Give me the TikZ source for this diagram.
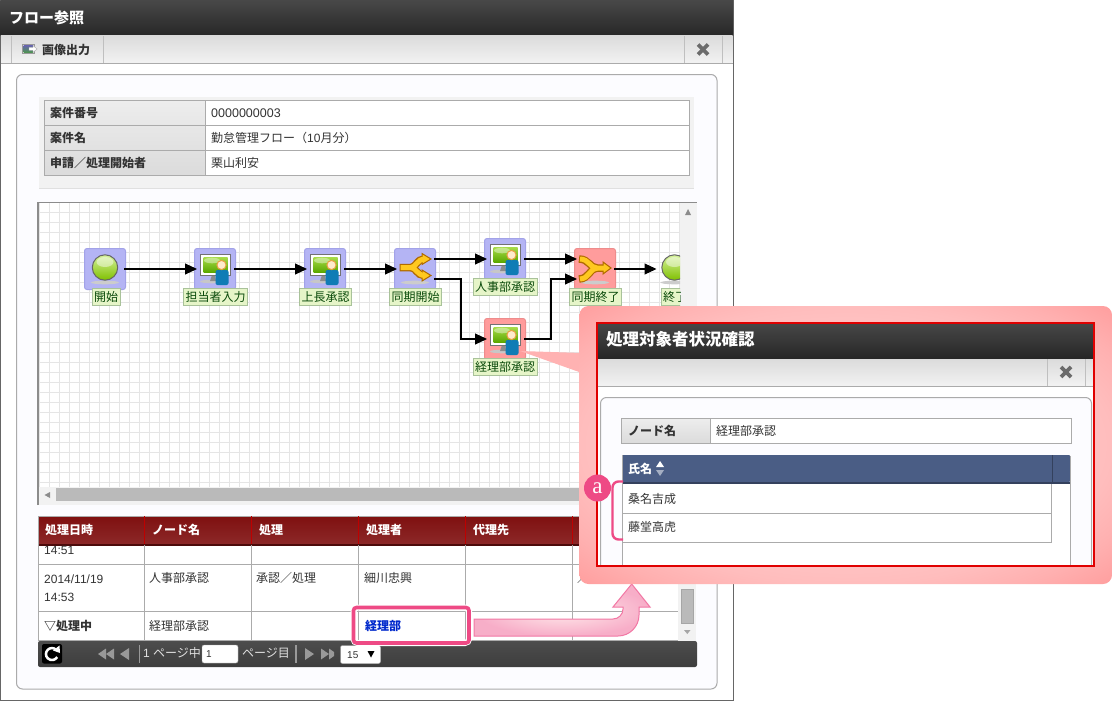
\documentclass[tikz,border=0pt]{standalone}
\usepackage{fontspec}
\setmainfont{Noto Sans CJK JP}
\newfontfamily\latinf{Liberation Sans}
\newfontfamily\markf{Liberation Serif}
\usetikzlibrary{arrows.meta}

\definecolor{textgray}{HTML}{333333}
\definecolor{linegray}{HTML}{ABABAB}
\definecolor{hotpink}{HTML}{EE4A85}
\definecolor{flowblue}{HTML}{B4B4F4}
\definecolor{flowblueline}{HTML}{A2A2E8}
\definecolor{flowred}{HTML}{FF9C9C}
\definecolor{flowredline}{HTML}{EE8C8C}
\definecolor{labelgreen}{HTML}{E6F5C8}
\definecolor{labelline}{HTML}{A9C29A}
\definecolor{labeltext}{HTML}{0A4A0A}
\definecolor{headred}{HTML}{7F1010}
\definecolor{headblue}{HTML}{4A5D85}
\definecolor{winred}{HTML}{E00000}
\definecolor{limetop}{HTML}{D6F29C}
\definecolor{limelow}{HTML}{7FC000}
\definecolor{screentop}{HTML}{A8DC4A}
\definecolor{screenlow}{HTML}{5CA800}
\definecolor{bodyblue}{HTML}{0F7CB5}
\definecolor{headskin}{HTML}{FFEBCB}
\definecolor{headline}{HTML}{E8A040}
\definecolor{forkfill}{HTML}{FFC820}
\definecolor{forkline}{HTML}{B06A00}

\pgfdeclareradialshading{calloutpink}{\pgfpoint{0bp}{0bp}}{rgb(0bp)=(1,.82,.82); rgb(18bp)=(1,.78,.78); rgb(25bp)=(1,.74,.74); rgb(30bp)=(1,.69,.69); rgb(35.4bp)=(1,.62,.62); rgb(50bp)=(1,.62,.62)}

\tikzset{
  txt/.style={anchor=west,inner sep=0pt,text=textgray,font=\fontsize{12}{14}\selectfont},
  boldtxt/.style={txt,font=\fontsize{12}{14}\selectfont\bfseries},
  headtxt/.style={boldtxt,text=white},
  titletxt/.style={anchor=west,inner sep=0pt,text=white,font=\fontsize{15}{17}\selectfont\bfseries},
  celline/.style={draw=linegray,line width=1pt},
  flowbox/.style={shape=rectangle,rounded corners=2.5pt,minimum size=41pt,inner sep=0pt,line width=1pt,draw=flowblueline,fill=flowblue},
  flowboxred/.style={flowbox,draw=flowredline,fill=flowred},
  flowlabel/.style={shape=rectangle,draw=labelline,fill=labelgreen,line width=1pt,inner sep=0pt,minimum height=17pt,text=labeltext,font=\fontsize{12}{14}\selectfont},
  flowline/.style={draw=black,line width=1.1pt,-{Triangle[length=12pt,width=11pt]},shorten <=-2pt,shorten >=-3pt},
  ballicon/.pic={
    \fill[black!20] (0,13.5) ellipse [x radius=14pt, y radius=1.8pt];
    \shade[top color=limetop,bottom color=limelow,draw=black!60,line width=1pt] (0,-1.5) circle [radius=12.7pt];
    \fill[white,opacity=.45] (0,-7) ellipse [x radius=8.5pt, y radius=5pt];
  },
  usericon/.pic={
    \fill[black!22] (-3,12.5) ellipse [x radius=12pt, y radius=1.8pt];
    \fill[black!45] (-3,6) -- (0,6) -- (1,12) -- (-5,12) -- cycle;
    \draw[black!55,fill=white,line width=1pt] (-14.5,-15) rectangle (15.5,6);
    \shade[top color=screentop,bottom color=screenlow] (-11.5,-12) rectangle (12.5,3);
    \fill[white,opacity=.4] (-3,-8.5) ellipse [x radius=8pt, y radius=2.8pt];
    \fill[bodyblue,rounded corners=2pt] (0.5,1) rectangle (13.5,16);
    \draw[headline,fill=headskin,line width=1pt] (6.5,-4) circle [radius=4.6pt];
  },
  forkicon/.pic={
    \fill[black!20] (0,13.5) ellipse [x radius=14pt, y radius=1.8pt];
    \draw[forkline,line width=7.5pt] (-15.5,-1.5) -- (-4,-1.5) .. controls (1,-1.5) and (2,-10) .. (9,-10);
    \draw[forkline,line width=7.5pt] (-4,-1.5) .. controls (1,-1.5) and (2,6.5) .. (9,6.5);
    \draw[forkline,fill=forkfill,line width=1pt] (7,-15.5) -- (16,-10) -- (7,-4.5) -- cycle;
    \draw[forkline,fill=forkfill,line width=1pt] (7,1) -- (16,6.5) -- (7,12) -- cycle;
    \draw[forkfill,line width=5pt] (-14.5,-1.5) -- (-4,-1.5) .. controls (1,-1.5) and (2,-10) .. (10,-10);
    \draw[forkfill,line width=5pt] (-4,-1.5) .. controls (1,-1.5) and (2,6.5) .. (10,6.5);
  },
  mergeicon/.pic={
    \fill[black!20] (0,13.5) ellipse [x radius=14pt, y radius=1.8pt];
    \draw[forkline,line width=7.5pt] (-16,-10) .. controls (-6,-10) and (-5,-1) .. (2,-1) -- (9,-1);
    \draw[forkline,line width=7.5pt] (-16,10) .. controls (-6,10) and (-5,-1) .. (2,-1);
    \draw[forkline,fill=forkfill,line width=1pt] (8,-7) -- (16,-1) -- (8,5) -- cycle;
    \draw[forkfill,line width=5pt] (-15,-10) .. controls (-6,-10) and (-5,-1) .. (2,-1) -- (10,-1);
    \draw[forkfill,line width=5pt] (-15,10) .. controls (-6,10) and (-5,-1) .. (2,-1);
  },
  closemark/.pic={
    \draw[black!58,line width=3.6pt] (-5,-5) -- (5,5);
    \draw[black!58,line width=3.6pt] (-5,5) -- (5,-5);
  }
}

\begin{document}
\begin{tikzpicture}[x=1pt,y=-1pt]

        \useasboundingbox (0,0) rectangle (1113,701);
        \fill[white] (0,0) rectangle (1113,701);

        % window
        \draw[black!60,line width=1pt,fill=white] (0.5,0.5) rectangle (733,700.5);
        \shade[top color=black!72,bottom color=black!85] (0.5,1) rectangle (733,36);
        \node[titletxt] (maintitle) at (9,18) {フロー参照};
        \shade[top color=black!14,bottom color=black!5] (1,36) rectangle (732.5,63);
        \draw[linegray] (1,63.5) -- (732.5,63.5);
        \draw[black!25] (11.5,36) -- (11.5,63);
        \draw[black!25] (103,36) -- (103,63);
        \draw[black!25] (684,36) -- (684,63);
        \draw[black!25] (722,36) -- (722,63);
        \draw[black!40,fill=white] (22.5,44.5) rectangle (34,53.5);
        \shade[top color=blue!45!black!60,bottom color=green!40!black!70] (23.5,45.5) rectangle (33,52.5);
        \fill[white,draw=black!35] (29,47.5) -- (33,47.5) -- (33,45.5) -- (37,49) -- (33,52.5) -- (33,50.5) -- (29,50.5) -- cycle;
        \node[boldtxt] (imgout) at (42,49.5) {画像出力};
        \pic at (703,49.5) {closemark};

        % panel
        \draw[linegray,fill=blue!1,rounded corners=6pt,line width=1pt] (16.5,74.5) rectangle (717,689);

        % case table
        \fill[black!5] (39,97) rectangle (694,188);
        \draw[black!12] (39,188.5) -- (694,188.5);
        \shade[top color=black!7,bottom color=black!14] (44,100) rectangle (205,175);
        \fill[white] (205,100) rectangle (689,175);
        \draw[celline] (44.5,100.5) rectangle (689,175);
        \draw[celline] (44.5,125.5) -- (689,125.5);
        \draw[celline] (44.5,150.5) -- (689,150.5);
        \draw[celline] (205.5,100.5) -- (205.5,175);
        \node[boldtxt] (casenohead) at (50,113) {案件番号};
        \node[boldtxt] (casenamehead) at (50,138) {案件名};
        \node[boldtxt] (applyhead) at (50,163) {申請／処理開始者};
        \node[txt,font=\fontsize{12.5}{14}\selectfont\latinf] (caseno) at (211,113) {0000000003};
        \node[txt] (casename) at (211,138) {勤怠管理フロー（{\latinf 10}月分）};
        \node[txt] (applyname) at (211,163) {栗山利安};

        % flow area
        \fill[black!5] (38,202) rectangle (697,505);
        \fill[white] (39,203) rectangle (680,487);
        \foreach \x in {39.5,49.5,...,679.5} {
            \draw[black!10] (\x,203) -- (\x,487);
        }
        \foreach \y in {212.5,222.5,...,482.5} {
            \draw[black!10] (39,\y) -- (680,\y);
        }
        \draw[black!45,line width=1.5pt] (38,505) -- (38,202.5) -- (697,202.5);
        \fill[black!45] (685,215) -- (688,209) -- (691,215) -- cycle;
        \fill[black!45] (50,492) -- (44.5,495) -- (50,498) -- cycle;
        \fill[black!27] (56,488) rectangle (660,501);

        \begin{scope}
        \clip (39,203) rectangle (680,487);
        \node[flowbox] (start) at (105,269) {};
        \node[flowbox] (tanto) at (215,269) {};
        \node[flowbox] (joucho) at (325,269) {};
        \node[flowbox] (fork) at (415,269) {};
        \node[flowbox] (jinji) at (505,259) {};
        \node[flowboxred] (keiri) at (505,339) {};
        \node[flowboxred] (merge) at (595,269) {};
        \coordinate (finish) at (656.5,269);

        \pic at (start) {ballicon};
        \pic at (tanto) {usericon};
        \pic at (joucho) {usericon};
        \pic at (fork) {forkicon};
        \pic at (jinji) {usericon};
        \pic at (keiri) {usericon};
        \pic at (merge) {mergeicon};
        \pic at (674.5,269) {ballicon};

        \node[flowlabel,minimum width=28pt] (startlabel) at (106,297) {開始};
        \node[flowlabel,minimum width=64pt] (tantolabel) at (215.5,297) {担当者入力};
        \node[flowlabel,minimum width=52pt] (joucholabel) at (325.5,297) {上長承認};
        \node[flowlabel,minimum width=52pt] (forklabel) at (415.5,297) {同期開始};
        \node[flowlabel,minimum width=64pt] (jinjilabel) at (505,287) {人事部承認};
        \node[flowlabel,minimum width=64pt] (keirilabel) at (505,367) {経理部承認};
        \node[flowlabel,minimum width=52pt] (mergelabel) at (595.5,297) {同期終了};
        \node[flowlabel,minimum width=28pt] (finishlabel) at (675,297) {終了};

        \draw[flowline] (start) -- (tanto);
        \draw[flowline] (tanto) -- (joucho);
        \draw[flowline] (joucho) -- (fork);
        \draw[flowline] ([yshift=10pt]fork.east) -- (jinji.west);
        \draw[flowline] ([yshift=-10pt]fork.east) -- ++(25,0) |- (keiri.west);
        \draw[flowline] (jinji.east) -- ([yshift=10pt]merge.west);
        \draw[flowline] (keiri.east) -- ++(25,0) |- ([yshift=-10pt]merge.west);
        \draw[flowline,shorten >=0pt] (merge) -- (finish);
        \end{scope}

        % history table
        \fill[white] (38,545) rectangle (678,641);
        \shade[top color=headred,bottom color=headred!90!white] (38,516) rectangle (697,544);
        \fill[headred!60!black] (38,543.5) rectangle (697,545.5);
        \draw[linegray] (38,516) -- (697,516);
        \draw[red!75!black] (144.5,516) -- (144.5,544);
        \draw[red!75!black] (251.5,516) -- (251.5,544);
        \draw[red!75!black] (358.5,516) -- (358.5,544);
        \draw[red!75!black] (465.5,516) -- (465.5,544);
        \draw[red!75!black] (572.5,516) -- (572.5,544);
        \node[headtxt] (headdate) at (45,530) {処理日時};
        \node[headtxt] (headnode) at (152,530) {ノード名};
        \node[headtxt] (headproc) at (259,530) {処理};
        \node[headtxt] (headuser) at (366,530) {処理者};
        \node[headtxt] (headproxy) at (473,530) {代理先};

        \draw[celline] (38.5,516) -- (38.5,641);
        \draw[celline] (144.5,545) -- (144.5,641);
        \draw[celline] (251.5,545) -- (251.5,641);
        \draw[celline] (358.5,545) -- (358.5,641);
        \draw[celline] (465.5,545) -- (465.5,641);
        \draw[celline] (572.5,545) -- (572.5,641);
        \draw[celline] (38,564.5) -- (678,564.5);
        \draw[celline] (38,611.5) -- (678,611.5);
        \draw[celline] (38,640.5) -- (678,640.5);

        \node[txt,font=\fontsize{12}{14}\selectfont\latinf] (timea) at (44,550) {14:51};
        \node[txt,font=\fontsize{12}{14}\selectfont\latinf] (datea) at (44,579) {2014/11/19};
        \node[txt,font=\fontsize{12}{14}\selectfont\latinf] (timeb) at (44,597) {14:53};
        \node[txt] (noderow) at (149,578) {人事部承認};
        \node[txt] (procrow) at (256,578) {承認／処理};
        \node[txt] (userrow) at (364,578) {細川忠興};
        \node[txt] (slashrow) at (577,578) {／};
        \node[boldtxt] (nowrow) at (44,625.5) {▽処理中};
        \node[txt] (nownode) at (149,625.5) {経理部承認};
        \node[boldtxt,text=blue!80!cyan!80!black] (nowuser) at (365,625.5) {経理部};

        % right scroll bar
        \fill[black!5] (678,545) rectangle (696,641);
        \fill[black!27] (681,589) rectangle (693,623.5);
        \draw[black!35] (681,589) rectangle (693,623.5);
        \fill[black!35] (684,630) -- (690.5,630) -- (687.3,634) -- cycle;

        % pager
        \shade[top color=black!70,bottom color=black!76,rounded corners=2pt] (38,641) rectangle (697,667);
        \fill[black,rounded corners=2pt] (42,644) rectangle (62,663.5);
        \draw[white,line width=2.5pt] (56.2,649.8) arc (-45:-330:6);
        \fill[white] (53,650.5) -- (59.5,645.5) -- (60,653) -- cycle;
        \fill[black!40] (106,648.5) -- (98,654) -- (106,659.5) -- cycle;
        \fill[black!40] (114,648.5) -- (106,654) -- (114,659.5) -- cycle;
        \fill[black!40] (129,648) -- (120,654) -- (129,660) -- cycle;
        \fill[black!40] (138.5,645) rectangle (140,663);
        \node[txt,text=black!12,font=\fontsize{12}{14}\selectfont\latinf] (pageone) at (143,653.5) {1};
        \node[txt,text=black!12] (pagein) at (153,653) {ページ中};
        \node[draw=black!35,fill=white,rounded corners=2pt,minimum width=36pt,minimum height=18pt,inner sep=0pt] (pagebox) at (220,654) {};
        \node[txt,font=\fontsize{10}{12}\selectfont\latinf] (pageval) at (206,654) {1};
        \node[txt,text=black!12] (pageat) at (242,653) {ページ目};
        \fill[black!40] (295,645) rectangle (296.5,663);
        \fill[black!40] (305,648) -- (314,654) -- (305,660) -- cycle;
        \fill[black!40] (321,648.5) -- (329,654) -- (321,659.5) -- cycle;
        \fill[black!40] (329,648.5) -- (334,652) -- (334,656) -- (329,659.5) -- cycle;
        \node[draw=black!35,fill=white,rounded corners=2pt,minimum width=40pt,minimum height=18pt,inner sep=0pt] (pagesize) at (360.5,654.5) {};
        \node[txt,font=\fontsize{10}{12}\selectfont\latinf] (pagesizeval) at (347,655) {15};
        \fill[black] (367.5,651) -- (374.5,651) -- (371,657.5) -- cycle;

        % highlight on the operator cell
        \draw[white,line width=6pt,rounded corners=4pt] (353.5,607.5) rectangle (469,643);
        \draw[hotpink,line width=3.6pt,rounded corners=3pt] (353.5,607.5) rectangle (469,643);

        % block arrow to the callout
        \shade[inner color=pink!30,outer color=hotpink!45,draw=hotpink!75,line width=1pt] (474,619) -- (613,619) arc (90:0:10) -- (623,607) -- (613,607) -- (631.7,584) -- (650,607) -- (639,607) -- (639,615) arc (0:90:21) -- (474,636) -- cycle;

        % callout
        \fill[red!30] (520,351) -- (582,353) -- (582,373) -- cycle;
        \shade[shading=calloutpink,rounded corners=9pt] (579.5,306) rectangle (1112,584);

        % callout window
        \fill[white] (597,323) rectangle (1094,566);
        \shade[top color=black!72,bottom color=black!85] (597,323) rectangle (1094,359);
        \node[titletxt,font=\fontsize{16.5}{18}\selectfont\bfseries] (subtitle) at (606,339.5) {処理対象者状況確認};
        \shade[top color=black!14,bottom color=black!5] (597,359) rectangle (1094,386);
        \draw[linegray] (597,386.5) -- (1094,386.5);
        \draw[black!25] (1047.5,359) -- (1047.5,386);
        \draw[black!25] (1085.5,359) -- (1085.5,386);
        \pic at (1066,372) {closemark};
        \draw[linegray,fill=blue!1,rounded corners=6pt,line width=1pt] (600.5,566) -- (600.5,397.5) -- (1091.5,397.5) -- (1091.5,566);

        \shade[top color=black!7,bottom color=black!14] (622,418) rectangle (711,443);
        \fill[white] (711,418) rectangle (1071,443);
        \draw[celline] (621.5,418.5) rectangle (1071,443.5);
        \draw[celline] (710.5,418.5) -- (710.5,443.5);
        \node[boldtxt] (nodenamehead) at (628,431) {ノード名};
        \node[txt] (nodename) at (716,431) {経理部承認};

        \fill[white] (622,484) rectangle (1070,566);
        \fill[headblue,rounded corners=1pt] (622,455) rectangle (1070,482);
        \fill[headblue!70!black] (622,482) rectangle (1070,484);
        \draw[headblue!70!black] (1052.5,455) -- (1052.5,484);
        \node[headtxt] (namehead) at (628,469) {氏名};
        \fill[white] (656,467) -- (664,467) -- (660,461) -- cycle;
        \fill[headblue!50!white] (656,470) -- (664,470) -- (660,476) -- cycle;
        \node[txt] (rowone) at (628,498.5) {桑名吉成};
        \node[txt] (rowtwo) at (628,527) {藤堂高虎};
        \draw[celline] (622,513.5) -- (1052,513.5);
        \draw[celline] (622,542.5) -- (1052,542.5);
        \draw[celline] (1051.5,484) -- (1051.5,542.5);
        \draw[celline] (622,455) -- (622,566);
        \draw[celline] (1070.5,456) -- (1070.5,566);

        \draw[winred,line width=2pt] (596.5,323) rectangle (1094,566);

        % bracket and marker
        \draw[hotpink,line width=2.4pt,rounded corners=6pt] (623,481.5) -- (612.5,481.5) -- (612.5,539.5) -- (623,539.5);
        \node[shape=circle,fill=hotpink,minimum size=27pt,inner sep=0pt,text=white,font=\fontsize{23}{23}\selectfont\markf] (markera) at (597.5,488) {a};

\end{tikzpicture}
\end{document}
